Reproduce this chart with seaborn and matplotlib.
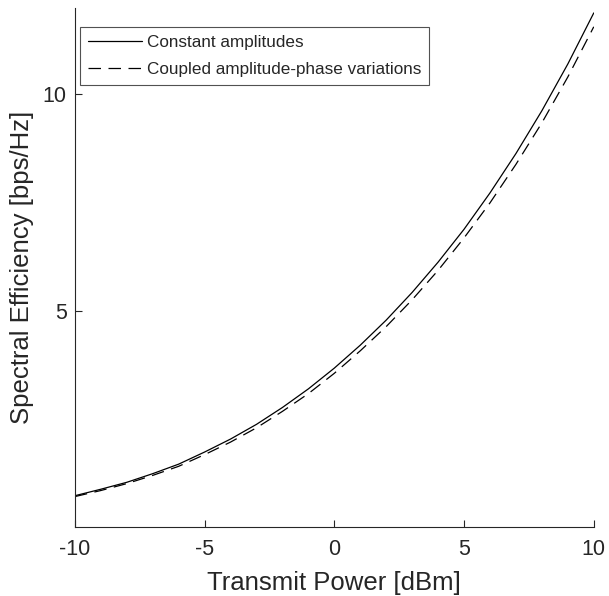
import numpy as np
import pandas as pd
import matplotlib
matplotlib.use("Agg")
import matplotlib.pyplot as plt
import seaborn as sns

# transmit power [dBm]
power = [-10, -9, -8, -7, -6, -5, -4, -3, -2, -1, 0, 1, 2, 3, 4, 5, 6, 7, 8, 9, 10]
# spectral efficiency [bps/Hz]
se_const = [0.72, 0.87, 1.03, 1.23, 1.45, 1.73, 2.03, 2.37, 2.76, 3.19, 3.67,
            4.20, 4.78, 5.42, 6.12, 6.88, 7.72, 8.63, 9.62, 10.70, 11.88]
se_coupled = [0.70, 0.84, 1.00, 1.19, 1.40, 1.67, 1.96, 2.29, 2.67, 3.08, 3.55,
              4.07, 4.63, 5.25, 5.93, 6.68, 7.49, 8.38, 9.34, 10.40, 11.56]
labels = ["Constant amplitudes", "Coupled amplitude-phase variations"]

df = pd.concat([
    pd.DataFrame({"power": power, "se": se_const, "case": labels[0]}),
    pd.DataFrame({"power": power, "se": se_coupled, "case": labels[1]}),
])

sns.set_style("ticks")
plt.rcParams["font.family"] = ["Liberation Sans", "DejaVu Sans"]
plt.rcParams["axes.unicode_minus"] = False
plt.rcParams["xtick.direction"] = "in"
plt.rcParams["ytick.direction"] = "in"

fig = plt.figure(figsize=(6.09, 5.96), dpi=100)
ax = fig.add_axes([0.123, 0.116, 0.852, 0.871])

sns.lineplot(data=df, x="power", y="se", hue="case", style="case",
             palette=["black", "black"], dashes={labels[0]: "", labels[1]: (10, 6)},
             linewidth=0.9, ax=ax)

ax.set_xlim(-10, 10)
ax.set_ylim(0, 12)
ax.set_xticks([-10, -5, 0, 5, 10])
ax.set_yticks([5, 10])
ax.tick_params(labelsize=15.5, length=5, width=0.8, color="#262626", labelcolor="#262626")
ax.tick_params(axis="x", pad=9)
ax.tick_params(axis="y", pad=6)
for s in ["left", "bottom"]:
    ax.spines[s].set_linewidth(0.8)
    ax.spines[s].set_color("#262626")
sns.despine(ax=ax)

ax.set_xlabel("Transmit Power [dBm]", fontsize=18.5, color="#262626", labelpad=8)
ax.set_ylabel("Spectral Efficiency [bps/Hz]", fontsize=18.5, color="#262626", labelpad=6)

leg = ax.legend(loc="upper left", bbox_to_anchor=(0.0096, 0.963), fontsize=12.3,
                frameon=True, fancybox=False, edgecolor="#262626",
                handlelength=3.2, handletextpad=0.3, borderpad=0.45,
                labelspacing=0.75, borderaxespad=0)
leg.get_frame().set_linewidth(0.8)

fig.savefig("out.png", dpi=100)
